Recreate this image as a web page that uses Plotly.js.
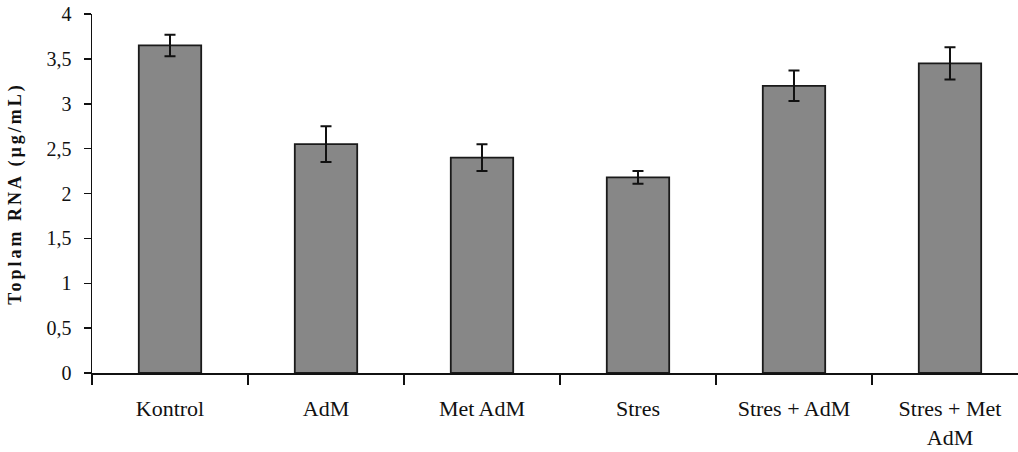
<!DOCTYPE html>
<html>
<head>
<meta charset="utf-8">
<script src="https://cdn.plot.ly/plotly-3.0.1.min.js"></script>
<style>
  html, body { margin: 0; padding: 0; background: #fff; }
  #chart { width: 1018px; height: 452px; }
  .ytitle { letter-spacing: 3px; }
</style>
</head>
<body>
<div id="chart"></div>
<script>
const categories = ["Kontrol", "AdM", "Met AdM", "Stres", "Stres + AdM", "Stres + Met<br>AdM"];
const values = [3.65, 2.55, 2.40, 2.18, 3.20, 3.45];
const errors = [0.12, 0.20, 0.15, 0.07, 0.17, 0.18];
const yTickVals = [0, 0.5, 1, 1.5, 2, 2.5, 3, 3.5, 4];
const yTickText = ["0", "0,5", "1", "1,5", "2", "2,5", "3", "3,5", "4"];
const yTitle = "Toplam RNA (µg/mL)";

const serif = "'Liberation Serif', 'Times New Roman', serif";

const trace = {
  type: "bar",
  x: categories,
  y: values,
  width: 0.4,
  marker: { color: "#878787", line: { color: "#1a1a1a", width: 1.8 } },
  error_y: { type: "data", array: errors, visible: true, color: "#111", thickness: 2, width: 5.5 },
  hoverinfo: "skip"
};

const layout = {
  width: 1018,
  height: 452,
  margin: { l: 92, r: 0, t: 14, b: 79 },
  paper_bgcolor: "#fff",
  plot_bgcolor: "#fff",
  showlegend: false,
  bargap: 0.6,
  xaxis: {
    type: "category",
    range: [-0.5, 5.436],
    showline: true,
    linecolor: "#111",
    linewidth: 1.5,
    ticks: "outside",
    tickson: "boundaries",
    ticklen: 10,
    tickwidth: 1.5,
    tickcolor: "#111",
    showgrid: false,
    zeroline: false,
    fixedrange: true,
    tickfont: { family: serif, size: 22, color: "#111" },
    ticklabelstandoff: 15
  },
  yaxis: {
    range: [0, 4],
    showline: true,
    linecolor: "#111",
    linewidth: 1.5,
    ticks: "outside",
    ticklen: 7,
    tickwidth: 1.5,
    tickcolor: "#111",
    showgrid: false,
    zeroline: false,
    fixedrange: true,
    tickvals: yTickVals,
    ticktext: yTickText,
    tickfont: { family: serif, size: 20, color: "#111" },
    ticklabelstandoff: 8,
    title: { text: yTitle, font: { family: serif, size: 18, color: "#111", weight: "bold" }, standoff: 20 }
  }
};

Plotly.newPlot("chart", [trace], layout, { displayModeBar: false, staticPlot: true });
</script>
</body>
</html>
